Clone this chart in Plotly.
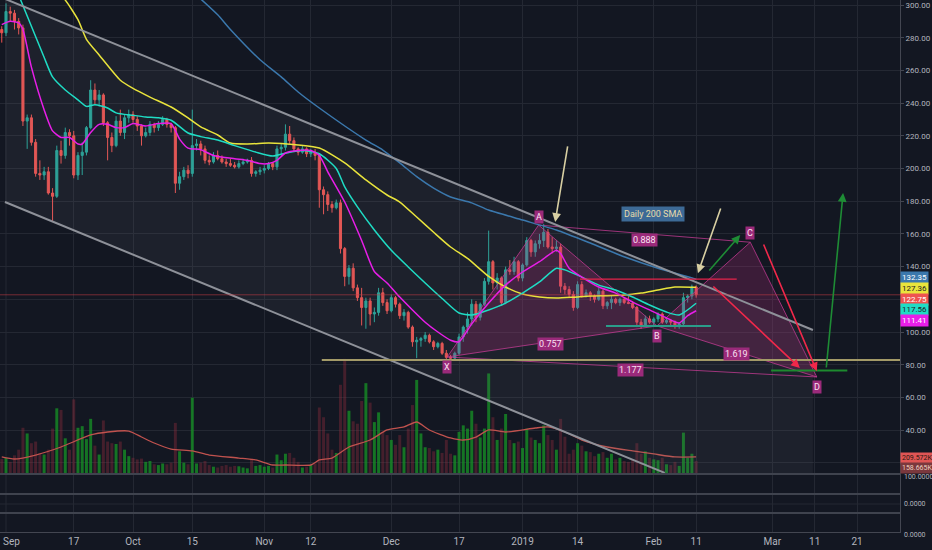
import plotly.graph_objects as go
import pandas as pd

# ---------------- data ----------------
dates = pd.date_range("2018-08-31", "2019-02-11", freq="D")

open_aug = [285]
high_aug = [287]
low_aug = [277]
close_aug = [283]
vol_aug = [185]

open_sep = [283,296,295,290,286,229,231,216,197,196,198,185,183,211,208,222,220,196,208,210,225,248,242,245,228,219,214,229,222,231]
high_sep = [301,299,297,292,288,233,233,218,205,201,201,188,214,217,225,224,223,210,216,226,254,252,248,246,229,222,232,236,233,236]
low_sep = [281,290,285,282,226,212,214,195,193,193,184,168,182,203,206,214,194,193,196,208,224,239,238,226,205,210,213,220,218,228]
close_sep = [296,295,290,286,229,231,216,197,196,198,185,183,211,208,222,220,196,208,210,225,248,242,245,228,219,214,229,222,231,233]
vol_sep = [200,150,230,300,570,500,380,400,260,240,300,560,810,790,440,300,920,570,590,430,680,350,240,660,400,380,370,400,300,220]

open_oct = [233,230,226,220,222,227,225,227,230,227,225,191,195,199,197,214,215,212,205,204,208,206,204,203,202,201,203,204,205,197,198]
high_oct = [235,232,227,225,229,228,229,232,231,228,226,198,201,202,236,218,217,214,208,210,211,208,206,206,204,205,206,206,207,199,201]
low_oct = [228,223,214,219,220,222,223,226,225,222,185,187,193,194,195,211,208,203,202,203,205,203,201,201,200,200,202,203,195,195,196]
close_oct = [230,226,220,222,227,225,227,230,227,225,191,195,199,197,214,215,212,205,204,208,206,204,203,202,201,203,204,205,197,198,199]
vol_oct = [200,180,190,150,160,120,110,130,120,140,630,280,140,120,940,130,140,160,110,90,80,100,110,90,100,95,80,70,190,100,110]

open_nov = [199,200,203,201,212,213,221,217,212,210,212,209,210,208,187,184,178,176,179,151,134,139,127,121,115,119,111,112,124,118]
high_nov = [202,204,204,214,215,227,226,219,213,214,213,212,212,209,189,186,180,181,181,152,141,142,129,127,121,121,115,127,127,120]
low_nov = [197,199,199,199,208,211,215,210,208,209,207,207,205,176,172,174,173,175,148,128,129,125,119,104,102,104,106,110,116,111]
close_nov = [200,203,201,212,213,221,217,212,210,212,209,210,208,187,184,178,176,179,151,134,139,127,121,115,119,111,112,124,118,113]
vol_nov = [90,100,80,240,170,250,260,200,150,80,90,110,130,820,700,500,300,260,1100,1420,780,650,620,900,1120,880,640,760,520,480]

open_dec = [113,121,117,110,112,103,94,95,96,98,94,91,93,87,84.5,84,87,97,103,108,117,109,117,131,143,130,133,118,138,137,143]
high_dec = [123,122,118,114,113,104,97,97,100,99,95,94,94,89,86,88,99,104,112,120,119,118,133,162,144,136,134,140,144,146,144]
low_dec = [112,115,108,107,102,91,84,91,94,93,89,90,86,83,82,83,86,94,99,104,106,107,116,129,126,126,116,117,135,135,131]
close_dec = [121,117,110,112,103,94,95,96,98,94,91,93,87,84.5,84,87,97,103,108,117,109,117,131,143,130,133,118,138,137,143,133]
vol_dec = [420,360,480,330,560,850,1160,500,330,320,280,300,260,420,250,230,520,600,560,780,620,450,560,1240,700,420,560,740,420,380,400]

open_jan = [133,141,156,149,154,156,161,152,151,152,128,126,123,115,129,122,124,122,120,125,116,118,120,118,120,118,117.5,115,106,104,108]
high_jan = [142,158,157,156,160,166,163,158,156,154,130,128,125,131,131,126,125,123,127,126,119,122,121,121,121,122,119,116,108,110,110]
low_jan = [131,140,146,146,151,152,151,148,149,124,123,121,113,114,121,121,119,118,119,114,114,114,117,116,117,117,114,103,102,103,105]
close_jan = [141,156,149,154,156,161,152,151,152,128,126,123,115,129,122,124,122,120,125,116,118,120,118,120,118,117.5,115,106,104,108,106]
vol_jan = [320,560,450,420,380,600,480,420,300,680,460,250,300,380,350,280,270,220,250,270,200,250,180,200,160,150,180,380,250,280,200]

open_feb = [106,108,111,106,107,106,104,105,121,122,127.5]
high_feb = [109,112,112,108,108,107,106,124,123,129,128.5]
low_feb = [104,106,105,105,104,102,102,104,118,120,121]
close_feb = [108,111,106,107,106,104,105,121,122,127.5,122.75]
vol_feb = [180,170,200,120,110,150,100,510,200,250,159]

opens = open_aug + open_sep + open_oct + open_nov + open_dec + open_jan + open_feb
highs = high_aug + high_sep + high_oct + high_nov + high_dec + high_jan + high_feb
lows = low_aug + low_sep + low_oct + low_nov + low_dec + low_jan + low_feb
closes = close_aug + close_sep + close_oct + close_nov + close_dec + close_jan + close_feb
volumes_k = vol_aug + vol_sep + vol_oct + vol_nov + vol_dec + vol_jan + vol_feb

# moving averages read at sample points
mag_dates = ["2018-08-31","2018-09-02","2018-09-04","2018-09-05","2018-09-07","2018-09-10","2018-09-12","2018-09-14","2018-09-16","2018-09-18","2018-09-19","2018-09-21","2018-09-23","2018-09-25","2018-09-27","2018-09-29","2018-10-01","2018-10-04","2018-10-07","2018-10-10","2018-10-12","2018-10-14","2018-10-17","2018-10-20","2018-10-25","2018-10-28","2018-10-31","2018-11-02","2018-11-04","2018-11-06","2018-11-09","2018-11-12","2018-11-14","2018-11-16","2018-11-20","2018-11-24","2018-11-27","2018-11-30","2018-12-03","2018-12-06","2018-12-09","2018-12-12","2018-12-15","2018-12-17","2018-12-20","2018-12-24","2018-12-28","2019-01-01","2019-01-05","2019-01-09","2019-01-10","2019-01-12","2019-01-15","2019-01-19","2019-01-23","2019-01-27","2019-01-31","2019-02-04","2019-02-07","2019-02-09","2019-02-11"]
mag_vals = [288,290,289,285,262,236,223,219,219,215,215,222,227,227,225,225,227.5,226,227.5,227.5,218,212.5,211.5,208,206,205,203,203,205,209.5,211,211,208,198,179.5,156,137,130,121.4,113.5,106,100,95,94,105,117.7,128.7,136.7,143,150,148,139,133.6,127.5,123.8,118.3,113.5,108.6,105.5,110,113]

cyan_dates = ["2018-09-04","2018-09-07","2018-09-10","2018-09-12","2018-09-15","2018-09-18","2018-09-20","2018-09-22","2018-09-25","2018-09-27","2018-10-01","2018-10-04","2018-10-07","2018-10-10","2018-10-14","2018-10-17","2018-10-21","2018-10-25","2018-10-30","2018-11-03","2018-11-07","2018-11-10","2018-11-14","2018-11-18","2018-11-20","2018-11-23","2018-11-27","2018-12-01","2018-12-05","2018-12-09","2018-12-13","2018-12-17","2018-12-20","2018-12-24","2018-12-28","2019-01-01","2019-01-05","2019-01-09","2019-01-11","2019-01-15","2019-01-19","2019-01-23","2019-01-27","2019-01-31","2019-02-04","2019-02-07","2019-02-11"]
cyan_vals = [306,287,268,256,248,242,238,239,237,234,232.5,231.5,231,229.5,221.7,219.5,217.4,214,210,207.6,210,211,209,200,188.7,176.5,162.4,150,139.8,130,120.5,111.6,110.4,113.5,117.7,123.8,130.6,139,138,133.6,128.7,125.7,121.4,116.5,112.2,110.4,117.56]

yel_dates = ["2018-09-13","2018-09-15","2018-09-18","2018-09-20","2018-09-23","2018-09-28","2018-10-01","2018-10-05","2018-10-10","2018-10-14","2018-10-17","2018-10-21","2018-10-24","2018-10-28","2018-11-02","2018-11-05","2018-11-09","2018-11-14","2018-11-20","2018-11-25","2018-11-30","2018-12-03","2018-12-07","2018-12-11","2018-12-15","2018-12-19","2018-12-24","2018-12-28","2019-01-01","2019-01-05","2019-01-09","2019-01-13","2019-01-17","2019-01-21","2019-01-25","2019-01-29","2019-02-02","2019-02-06","2019-02-11"]
yel_vals = [308,303,291,279,269.4,254,249,243.7,237.6,230.9,225.4,220.5,215.6,215,215.6,215.3,214.4,212.5,203.4,193,183.8,179.5,170.3,161,152,145,134,127.5,123.2,121.4,120.8,121.3,122,122.2,122.6,123.8,125.7,127.5,127.36]

blue_dates = ["2018-10-16","2018-10-21","2018-10-24","2018-10-31","2018-11-05","2018-11-09","2018-11-14","2018-11-25","2018-11-29","2018-12-03","2018-12-07","2018-12-11","2018-12-15","2018-12-20","2018-12-24","2019-01-01","2019-01-09","2019-01-17","2019-01-25","2019-02-02","2019-02-11"]
blue_vals = [306,294,285,266.5,256,246.8,237,217.4,211.3,203.4,195,188,182.6,179,174.6,168.5,162.4,154.4,146,139,132.35]

vma_dates = ["2018-08-31","2018-09-03","2018-09-08","2018-09-14","2018-09-21","2018-09-25","2018-09-30","2018-10-03","2018-10-06","2018-10-10","2018-10-15","2018-10-19","2018-10-26","2018-10-30","2018-11-03","2018-11-06","2018-11-12","2018-11-14","2018-11-17","2018-11-21","2018-11-26","2018-11-30","2018-12-04","2018-12-07","2018-12-10","2018-12-15","2018-12-18","2018-12-21","2018-12-24","2018-12-28","2019-01-04","2019-01-07","2019-01-11","2019-01-15","2019-01-21","2019-01-27","2019-02-01","2019-02-06","2019-02-11"]
vma_vals = [210,185,234,333,481,518,530,456,382,308,284,234,197,173,111,111,111,173,197,333,419,543,580,641,543,444,419,456,543,518,567,580,518,419,333,284,247,210,210]

# XABCD pattern points
pat_names = ["X", "A", "B", "C", "D"]
pat_dates = ["2018-12-14 05:00", "2019-01-04 19:00", "2019-02-01 18:00", "2019-02-23 19:00", "2019-03-11 12:00"]
pat_prices = [84.7, 165.4, 103.7, 154.9, 72.5]
ratio_text = ["0.888", "0.757", "1.619", "1.177"]
ratio_dates = ["2019-01-29 17:00", "2019-01-07 17:00", "2019-02-20 14:00", "2019-01-26 14:00"]
ratio_prices = [156, 92.7, 86.5, 77]

tick_vals = ["2018-09-17","2018-10-01","2018-10-15","2018-11-01","2018-11-12","2018-12-01","2018-12-17","2019-01-01","2019-01-14","2019-02-01","2019-02-11","2019-03-01","2019-03-11","2019-03-21"]
tick_text = ["17","Oct","15","Nov","12","Dec","17","2019","14","Feb","11","Mar","11","21"]
first_tick = ("2018-09-01", "Sep")
price_ticks = [20,40,60,80,100,120,140,160,180,200,220,240,260,280,300]
price_tick_text = ["" if v in (20, 120) else f"{v:.2f}" for v in price_ticks]

# ---------------- figure ----------------
BG = "#131722"
GRID = "#242833"
X0, X1 = "2018-08-30 14:00", "2019-03-31 03:36"
H_PLOT = 532.0

def py(px):
    return (H_PLOT - px) / H_PLOT

fig = go.Figure()

# channel fill
fig.add_trace(go.Scatter(
    x=["2018-08-31 18:00", "2019-03-10 14:00", "2019-03-10 14:00", "2019-02-03 14:00", "2018-08-31 18:00"],
    y=[304.3, 101.2, 13.1, 13.1, 179.5], fill="toself", fillcolor="rgba(120,125,140,0.10)",
    line=dict(width=0), mode="lines", yaxis="y2", hoverinfo="skip", showlegend=False))

# volume
vcolors = ["rgba(22,140,38,0.8)" if c >= o else "rgba(150,45,60,0.38)" for o, c in zip(opens, closes)]
fig.add_trace(go.Bar(x=dates, y=volumes_k, marker=dict(color=vcolors, line=dict(width=0)),
                     yaxis="y", hoverinfo="skip", showlegend=False))
fig.add_trace(go.Scatter(x=vma_dates, y=vma_vals, mode="lines", line=dict(color="#c0524e", width=1.3, shape="spline", smoothing=0.6),
                         yaxis="y", hoverinfo="skip", showlegend=False))

# triangles of the pattern
pc = "rgba(200,60,150,0.75)"
fig.add_trace(go.Scatter(x=[pat_dates[0], pat_dates[1], pat_dates[2], pat_dates[0]],
                         y=[pat_prices[0], pat_prices[1], pat_prices[2], pat_prices[0]],
                         fill="toself", fillcolor="rgba(190,45,130,0.24)", line=dict(color=pc, width=1),
                         mode="lines", yaxis="y2", hoverinfo="skip", showlegend=False))
fig.add_trace(go.Scatter(x=[pat_dates[2], pat_dates[3], pat_dates[4], pat_dates[2]],
                         y=[pat_prices[2], pat_prices[3], pat_prices[4], pat_prices[2]],
                         fill="toself", fillcolor="rgba(190,45,130,0.24)", line=dict(color=pc, width=1),
                         mode="lines", yaxis="y2", hoverinfo="skip", showlegend=False))
for i, j in [(1, 3), (0, 4)]:
    fig.add_trace(go.Scatter(x=[pat_dates[i], pat_dates[j]], y=[pat_prices[i], pat_prices[j]], mode="lines",
                             line=dict(color=pc, width=1), yaxis="y2", hoverinfo="skip", showlegend=False))

# moving averages
for xs, ys, col in [(blue_dates, blue_vals, "#3b78ad"), (yel_dates, yel_vals, "#e9e43c"),
                    (cyan_dates, cyan_vals, "#1fdcc4"), (mag_dates, mag_vals, "#e81ee8")]:
    fig.add_trace(go.Scatter(x=xs, y=ys, mode="lines", line=dict(color=col, width=1.5, shape="spline", smoothing=0.6),
                             yaxis="y2", hoverinfo="skip", showlegend=False))

# candles
fig.add_trace(go.Candlestick(x=dates, open=opens, high=highs, low=lows, close=closes, yaxis="y2",
                             increasing=dict(line=dict(color="#26a69a", width=1), fillcolor="#26a69a"),
                             decreasing=dict(line=dict(color="#ef5350", width=1), fillcolor="#ef5350"),
                             whiskerwidth=0, hoverinfo="skip", showlegend=False))

# channel lines
fig.add_trace(go.Scatter(x=["2018-08-30 14:00", "2019-03-10 14:00"], y=[305, 101.2], mode="lines",
                         line=dict(color="#8e9199", width=2), yaxis="y2", hoverinfo="skip", showlegend=False))
fig.add_trace(go.Scatter(x=["2018-08-31 18:00", "2019-02-03 14:00"], y=[179.5, 13.8], mode="lines",
                         line=dict(color="#8e9199", width=2), yaxis="y2", hoverinfo="skip", showlegend=False))

shapes = []
def hline(x0, x1, y, color, width, dash="solid"):
    shapes.append(dict(type="line", xref="x", yref="y2", x0=x0, x1=x1, y0=y, y1=y,
                       line=dict(color=color, width=width, dash=dash)))

hline(X0, X1, 122.75, "rgba(200,60,70,0.55)", 1)
hline("2018-11-14 14:00", X1, 82.9, "#a39a68", 2)
hline("2019-01-14 14:00", "2019-02-20 14:00", 132.4, "#e8234a", 1.2)
hline("2019-01-20 17:00", "2019-02-14 12:00", 103.7, "#2a9d8a", 2)
hline("2019-02-28 17:00", "2019-03-18 17:00", 76.4, "#1d8a2e", 2)

# grid line for first date tick (label drawn separately)
shapes.append(dict(type="line", xref="x", yref="paper", x0=first_tick[0], x1=first_tick[0], y0=0, y1=1,
                   line=dict(color=GRID, width=1), layer="below"))

# pane separators
for px, w, col in [(474, 2, "#3f434e"), (494, 2, "#3f434e"), (513, 2, "#3f434e"), (504, 1, GRID)]:
    shapes.append(dict(type="line", xref="paper", yref="paper", x0=0, x1=1, y0=py(px), y1=py(px),
                       line=dict(color=col, width=w)))

annotations = []
# arrows
arrows = [
    (("2019-01-11 17:00", 214.4), ("2019-01-08 17:00", 167.3), "#d8cfa2"),
    (("2019-02-16 22:00", 176.5), ("2019-02-11 10:00", 136.0), "#d8cfa2"),
    (("2019-02-13 19:00", 136.7), ("2019-02-21 10:00", 159.3), "#1e8c35"),
    (("2019-02-14 17:00", 128.7), ("2019-03-07 12:00", 78.0), "#f0284a"),
    (("2019-02-26 19:00", 154.4), ("2019-03-11 12:00", 76.0), "#f0284a"),
    (("2019-03-13 17:00", 77.4), ("2019-03-17 17:00", 185.0), "#1e8c35"),
]
for (tx, ty), (hx, hy), col in arrows:
    annotations.append(dict(x=hx, y=hy, ax=tx, ay=ty, xref="x", yref="y2", axref="x", ayref="y2",
                            text="", showarrow=True, arrowhead=2, arrowsize=1.1, arrowwidth=1.6,
                            arrowcolor=col, standoff=0, startstandoff=0))

lab = dict(showarrow=False, bgcolor="#9a2a7a", font=dict(color="#fbe2f3", size=9, family="Roboto"), borderpad=1)
shifts = [-10, 8, -10, 9, -10]
for n, d, p, s in zip(pat_names, pat_dates, pat_prices, shifts):
    annotations.append(dict(x=d, y=p, xref="x", yref="y2", text=n, yshift=s, **lab))
for t, d, p in zip(ratio_text, ratio_dates, ratio_prices):
    annotations.append(dict(x=d, y=p, xref="x", yref="y2", text=t, **lab))

annotations.append(dict(x="2019-01-31 21:00", y=171.9, xref="x", yref="y2", text="Daily 200 SMA", showarrow=False,
                        bgcolor="#3d6a96", font=dict(color="#e6dcaa", size=9, family="Roboto"), borderpad=2))

# first date label (kept inside the left edge)
annotations.append(dict(x=first_tick[0], y=0, xref="x", yref="paper", yanchor="top", xanchor="left", xshift=-5,
                        yshift=-2, text=first_tick[1], showarrow=False,
                        font=dict(color="#b2b5be", size=10, family="Roboto")))

# right-side value labels
side = [("132.35", 278, "#3b78ad", "#ffffff"), ("127.36", 288.5, "#e9e43c", "#222222"),
        ("122.75", 299, "#ef5350", "#ffffff"), ("117.56", 310, "#1fdcc4", "#222222"),
        ("111.41", 320.5, "#e81ee8", "#ffffff")]
for t, px, bg, fc in side:
    annotations.append(dict(x=1, y=py(px), xref="paper", yref="paper", xanchor="left", yanchor="middle",
                            text=t, showarrow=False, bgcolor=bg, font=dict(color=fc, size=8, family="Roboto"),
                            borderpad=1))
vside = [("209.572K", 457.5, "#e05555", "#2a1a10"), ("158.665K", 467.5, "#7a383d", "#f0d0c0")]
for t, px, bg, fc in vside:
    annotations.append(dict(x=1, y=py(px), xref="paper", yref="paper", xanchor="left", yanchor="middle",
                            text=t, showarrow=False, bgcolor=bg, font=dict(color=fc, size=7, family="Roboto"),
                            borderpad=1))
for t, px in [("100.0000", 477), ("0.0000", 504), ("0.0000", 535)]:
    annotations.append(dict(x=1, y=py(px), xref="paper", yref="paper", xanchor="left", yanchor="middle",
                            xshift=2, text=t, showarrow=False, font=dict(color="#b2b5be", size=7, family="Roboto")))

fig.update_layout(
    width=932, height=550, margin=dict(l=0, r=32, t=0, b=18),
    paper_bgcolor=BG, plot_bgcolor=BG, hovermode=False, showlegend=False,
    bargap=0.3, boxgap=0.3,
    font=dict(family="Roboto", color="#b2b5be"),
    xaxis=dict(type="date", range=[X0, X1], tickvals=tick_vals, ticktext=tick_text,
               tickfont=dict(size=10, color="#b2b5be"), showgrid=True, gridcolor=GRID, gridwidth=1,
               showline=True, linecolor="#434651", linewidth=1, ticks="", rangeslider=dict(visible=False),
               zeroline=False, fixedrange=True),
    yaxis=dict(range=[-715, 5844], visible=False, showgrid=False, zeroline=False, domain=[0, 1]),
    yaxis2=dict(overlaying="y", side="right", range=[-22.32, 303.06], tickvals=price_ticks,
                ticktext=price_tick_text, tickfont=dict(size=8, color="#b2b5be"),
                showgrid=True, gridcolor=GRID, gridwidth=1, zeroline=False,
                showline=True, linecolor="#434651", linewidth=1, ticks="outside", ticklen=3,
                tickcolor="#434651"),
    shapes=shapes, annotations=annotations,
)

fig.write_html("out.html", config={"displayModeBar": False},
               post_script="document.body.style.margin='0';document.body.style.background='#131722';")
